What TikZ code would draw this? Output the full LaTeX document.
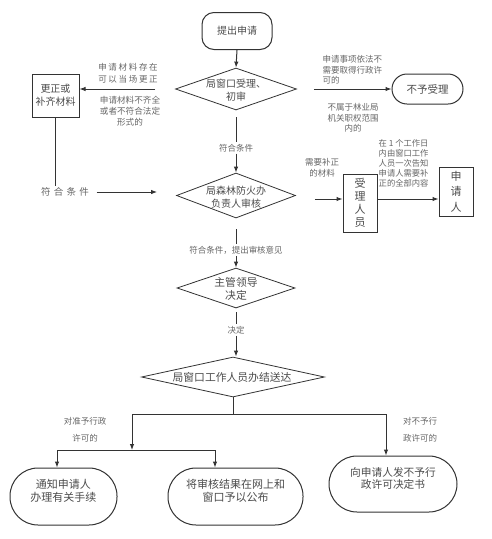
\documentclass[tikz,border=0pt]{standalone}
\usepackage{fontspec}
\newfontfamily\cjk{Noto Sans CJK SC}
\newfontfamily\cjks[LetterSpace=20]{Noto Sans CJK SC}
\newfontfamily\cjkw[LetterSpace=35]{Noto Sans CJK SC}
\usetikzlibrary{arrows.meta,shapes.geometric}
\tikzset{
 ln/.style={draw=black!80, line width=1pt},
 arr/.style={ln, -{Latex[length=6pt,width=4.5pt]}},
 box/.style={draw=black!80, line width=1pt, font=\cjk\fontsize{10}{13}\selectfont, text=black!70, align=center, inner sep=0pt},
 dia/.style={diamond, draw=black!80, line width=0.8pt, inner sep=0pt},
 txt/.style={font=\cjk\fontsize{10}{13.5}\selectfont, text=black!70, align=center, inner sep=0pt},
 lab/.style={font=\cjk\fontsize{8.5}{10.5}\selectfont, text=black!60, align=center, inner sep=1.5pt},
}
\begin{document}
\begin{tikzpicture}[x=1pt,y=-1pt]
\fill[white] (0,0) rectangle (492,539);
\useasboundingbox (0,0) rectangle (492,539);

% main column
\node[box, rounded corners=12pt, minimum width=70pt, minimum height=37pt] (start) at (237,31) {提出申请};
\node[dia, minimum width=121pt, minimum height=42pt] (d1) at (236,89) {};
\node[txt] (d1t) at (236,90) {局窗口受理、\\初审};
\node[dia, minimum width=119pt, minimum height=45pt] (d2) at (236,195.5) {};
\node[txt] (d2t) at (236,197) {局森林防火办\\负责人审核};
\node[dia, minimum width=118pt, minimum height=40pt] (d3) at (236,288) {};
\node[txt, font=\cjk\fontsize{10.8}{13}\selectfont] (d3t) at (236,289) {主管领导\\决定};
\node[dia, minimum width=183pt, minimum height=40pt] (d4) at (233,377) {};
\node[txt, font=\cjk\fontsize{10.8}{13}\selectfont] (d4t) at (232,377) {局窗口工作人员办结送达};

% side boxes
\node[box, minimum width=47pt, minimum height=43pt] (fix) at (55.5,95.5) {更正或\\补齐材料};
\node[box, rounded corners=15pt, minimum width=71pt, minimum height=30pt, font=\cjk\fontsize{10.5}{13}\selectfont] (nb) at (427.5,89) {不予受理};
\node[box, minimum width=34pt, minimum height=58pt, font=\cjk\fontsize{11}{13}\selectfont] (sl) at (360,203) {受\\理\\人\\员};
\node[box, minimum width=34pt, minimum height=49pt, font=\cjk\fontsize{11}{15.5}\selectfont] (sq) at (456,191.5) {申\\请\\人};

% bottom boxes
\node[box, rounded corners=28pt, minimum width=107pt, minimum height=57pt, text depth=12pt, font=\cjk\fontsize{11}{12.5}\selectfont] (r1) at (63.5,496.5) {通知申请人\\办理有关手续};
\node[box, rounded corners=28pt, minimum width=135pt, minimum height=57pt, text depth=12pt, font=\cjk\fontsize{11}{12.5}\selectfont] (r2) at (235.5,496.5) {将审核结果在网上和\\窗口予以公布};
\node[box, rounded corners=28pt, minimum width=128pt, minimum height=56pt, text depth=12pt, font=\cjk\fontsize{10.7}{12.5}\selectfont] (r3) at (393,484) {向申请人发不予行\\政许可决定书};

% column connectors
\draw[arr] (start.south) -- (d1.north);
\node[lab] (l1) at (236,148) {符合条件};
\draw[ln, shorten <=7pt] (d1.south) -- (l1.north);
\draw[arr] (l1.south) -- (d2.north);
\node[lab] (l2) at (236,250) {符合条件，提出审核意见};
\draw[ln, shorten <=11pt] (d2.south) -- (l2.north);
\draw[arr] (l2.south) -- (d3.north);
\node[lab] (l3) at (236,330) {决定};
\draw[ln, shorten <=4pt] (d3.south) -- (l3.north);
\draw[arr] (l3.south) -- (l3.south |- d4.north);

% bottom tree
\coordinate (b0) at (233,414);
\coordinate (bl) at (132,414);
\coordinate (br) at (386,414);
\coordinate (m) at (132,450);
\coordinate (ml) at (57,450);
\coordinate (mr) at (215,450);
\draw[ln] (d4.south) -- (b0);
\draw[ln] (bl) -- (br);
\draw[arr] (bl) -- (m);
\draw[ln] (ml) -- (mr);
\draw[arr] (ml) -- (ml |- r1.north);
\draw[arr] (mr) -- (mr |- r2.north);
\draw[arr] (br) -- (br |- r3.north);
\node[lab] (l4) at (85,430) {对准予行政\\[6pt]许可的};
\node[lab] (l5) at (420,430) {对不予行\\[6pt]政许可的};

% left side
\draw[arr, shorten <=20pt] (d1.west) -- (d1.west -| fix.east);
\node[lab, font=\cjks\fontsize{8.5}{12}\selectfont] (l6) at (128,73) {申请材料存在\\可以当场更正};
\node[lab, font=\cjk\fontsize{8.6}{11}\selectfont] (l7) at (130,111) {申请材料不齐全\\或者不符合法定\\形式的};
\node[lab, font=\cjkw\fontsize{9.5}{11}\selectfont] (l8) at (65,192) {符合条件};
\draw[ln] (fix.south) -- (fix.south |- l8.north);
\draw[arr, shorten <=6pt, shorten >=19pt] (l8.east) -- (l8.east -| d2.west);

% right side
\draw[arr, shorten <=17pt] (d1.east) -- (d1.east -| nb.west);
\node[lab, align=left, anchor=north west] (l9) at (321,54) {申请事项依法不\\需要取得行政许\\可的};
\node[lab] (l10) at (353,118) {不属于林业局\\机关职权范围\\内的};
\draw[arr, shorten <=19pt] ([yshift=-3.5pt]d2.east) -- ([yshift=-3.5pt]d2.east -| sl.west);
\draw[arr] ([yshift=-3.5pt]d2.east -| sl.east) -- ([yshift=-3.5pt]d2.east -| sq.west);
\node[lab] (l11) at (322,168) {需要补正\\的材料};
\node[lab, align=left, anchor=west, font=\cjk\fontsize{8.3}{10}\selectfont] (l12) at (377,163) {在 1 个工作日\\内由窗口工作\\人员一次告知\\申请人需要补\\正的全部内容};
\end{tikzpicture}
\end{document}
